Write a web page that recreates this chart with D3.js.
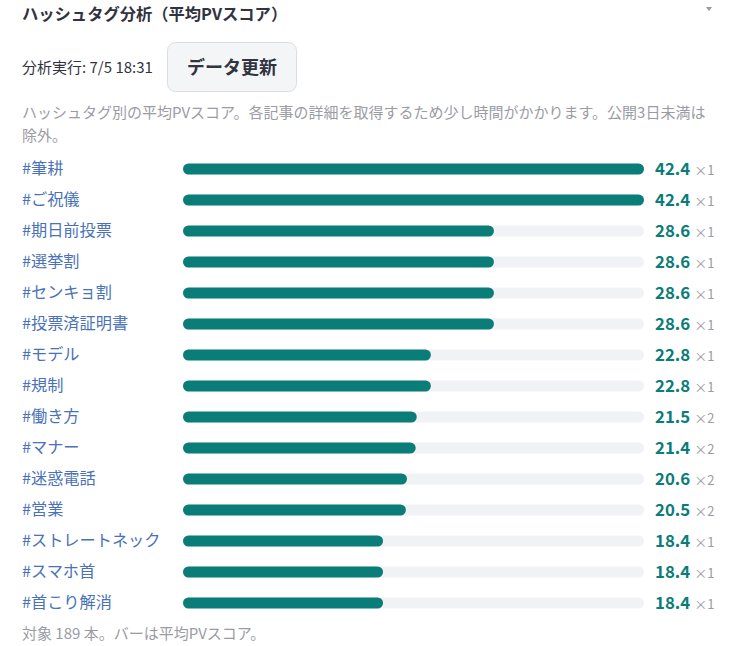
<!DOCTYPE html>
<html>
<head>
<meta charset="utf-8">
<script src="https://cdn.jsdelivr.net/npm/d3@7"></script>
<style>
  body { margin: 0; background: #fff; font-family: "Noto Sans CJK JP", "Noto Sans", sans-serif; }
</style>
</head>
<body>
<div class="container"></div>
<script>
const WIDTH = 733;
const HEIGHT = 646;

const tags = ["#筆耕", "#ご祝儀", "#期日前投票", "#選挙割", "#センキョ割", "#投票済証明書", "#モデル", "#規制",
    "#働き方", "#マナー", "#迷惑電話", "#営業", "#ストレートネック", "#スマホ首", "#首こり解消"];
const scores = [42.4, 42.4, 28.6, 28.6, 28.6, 28.6, 22.8, 22.8, 21.5, 21.4, 20.6, 20.5, 18.4, 18.4, 18.4];
const counts = [1, 1, 1, 1, 1, 1, 1, 1, 2, 2, 2, 2, 1, 1, 1];

const BAR_LEFT = 183;
const BAR_RIGHT = 644;
const ROW_TOP = 168;
const ROW_STEP = 31;
const BAR_H = 11;
const TEAL = "#0b7d79";

var translate = function (x, y) {
    return "translate(" + x + "," + y + ")";
};

var _xScale = d3.scaleLinear()
    .domain([0, d3.max(scores)])
    .range([0, BAR_RIGHT - BAR_LEFT]);

var _yScale = d3.scalePoint()
    .domain(tags)
    .range([ROW_TOP, ROW_TOP + ROW_STEP * (tags.length - 1)]);

var svg = d3.select(".container").append("svg")
    .attr("width", WIDTH)
    .attr("height", HEIGHT);

// header
svg.append("text")
    .attr("x", 22).attr("y", 20)
    .attr("font-size", 16.3).attr("font-weight", 700)
    .attr("fill", "#31333f")
    .text("ハッシュタグ分析（平均PVスコア）");

svg.append("path")
    .attr("d", "M706,7 L712,7 L709,11 Z")
    .attr("fill", "#999");

svg.append("text")
    .attr("x", 22).attr("y", 73)
    .attr("font-size", 15).attr("fill", "#31333f")
    .text("分析実行: 7/5 18:31");

svg.append("rect")
    .attr("x", 167.5).attr("y", 42.5)
    .attr("width", 129).attr("height", 49)
    .attr("rx", 8)
    .attr("fill", "#f4f5f7").attr("stroke", "#dcdde2");

svg.append("text")
    .attr("x", 232).attr("y", 74)
    .attr("text-anchor", "middle")
    .attr("font-size", 18).attr("font-weight", 700)
    .attr("fill", "#31333f")
    .text("データ更新");

var desc = ["ハッシュタグ別の平均PVスコア。各記事の詳細を取得するため少し時間がかかります。公開3日未満は", "除外。"];
svg.selectAll(".desc").data(desc).enter().append("text")
    .attr("class", "desc")
    .attr("x", 22)
    .attr("y", function (d, i) { return 118 + i * 23; })
    .attr("font-size", 15).attr("fill", "#9a9ca3")
    .text(function (d) { return d; });

// rows
var row = svg.selectAll(".row")
    .data(tags)
    .enter().append("g")
    .attr("class", "row")
    .attr("transform", function (d) { return translate(0, _yScale(d)); });

row.append("text")
    .attr("x", 22).attr("y", 6)
    .attr("font-size", 16.2).attr("fill", "#4a72b8")
    .text(function (d) { return d; });

row.append("rect")
    .attr("x", BAR_LEFT).attr("y", -BAR_H / 2 + 1)
    .attr("width", _xScale.range()[1]).attr("height", BAR_H)
    .attr("rx", BAR_H / 2)
    .attr("fill", "#f0f2f6");

row.append("rect")
    .attr("x", BAR_LEFT).attr("y", -BAR_H / 2 + 1)
    .attr("width", function (d, i) { return _xScale(scores[i]); })
    .attr("height", BAR_H)
    .attr("rx", BAR_H / 2)
    .attr("fill", TEAL);

var val = row.append("text")
    .attr("x", 655).attr("y", 7);

val.append("tspan")
    .attr("font-size", 16.8).attr("font-weight", 700).attr("fill", TEAL)
    .text(function (d, i) { return scores[i].toFixed(1); });

val.append("tspan")
    .attr("dx", 4)
    .attr("font-size", 13).attr("fill", "#9a9ca3")
    .text(function (d, i) { return "×" + counts[i]; });

svg.append("text")
    .attr("x", 22).attr("y", 639)
    .attr("font-size", 15).attr("fill", "#9a9ca3")
    .text("対象 189 本。バーは平均PVスコア。");
</script>
</body>
</html>
